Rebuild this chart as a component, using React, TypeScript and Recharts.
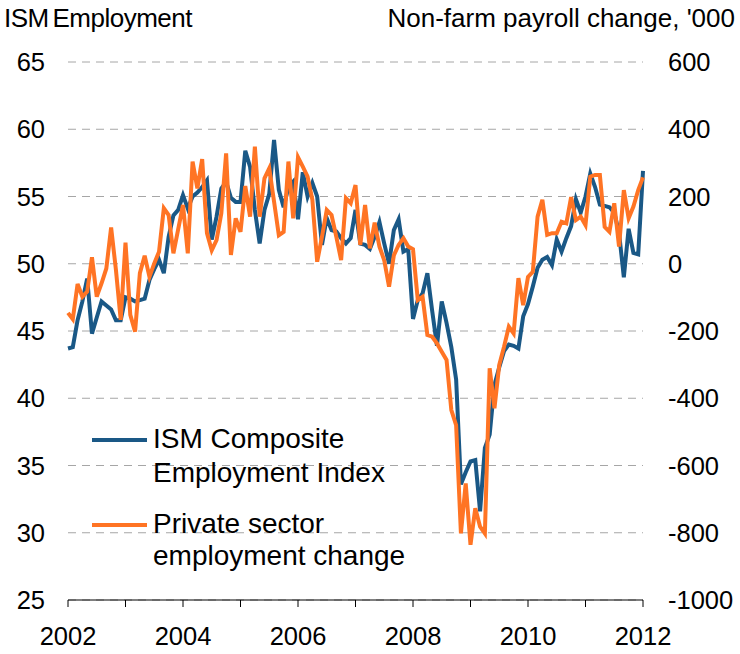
import React from 'react';
import { LineChart, Line, XAxis, YAxis, CartesianGrid } from 'recharts';

// monthly categories, Jan 2002 .. Jan 2012
const months: string[] = [];
for (let y = 2002; y <= 2012; y++) {
  for (let m = 1; m <= 12; m++) {
    if (y === 2012 && m > 1) break;
    months.push(`${y}-${String(m).padStart(2, '0')}`);
  }
}

const ismEmployment = [
  43.7, 43.8, 45.8, 47.2, 48.9, 44.8, 46.0, 47.2, 46.9, 46.6,
  45.8, 45.8, 47.5, 47.4, 47.2, 47.3, 47.4, 48.8, 49.6, 50.3,
  49.3, 52.0, 53.6, 54.0, 55.1, 54.1, 55.0, 55.3, 55.7, 56.2,
  51.8, 53.5, 55.6, 56.1, 54.9, 54.6, 54.6, 58.4, 57.2, 54.0,
  51.5, 54.0, 55.2, 59.2, 55.5, 54.2, 55.7, 56.1, 53.3, 56.8,
  55.0, 56.0, 55.0, 51.4, 53.4, 52.5, 52.4, 51.9, 51.5, 51.9,
  54.0, 51.5, 51.4, 51.1, 52.0, 53.1, 51.5, 50.0, 52.5, 53.3,
  50.9, 51.1, 45.9, 47.3, 47.8, 49.3, 46.5, 43.9, 47.2, 45.6,
  43.8, 41.4, 33.6, 34.5, 35.3, 35.4, 31.6, 36.3, 37.3, 41.0,
  42.3, 43.5, 44.0, 43.9, 43.7, 46.1, 47.0, 48.3, 49.7, 50.3,
  50.5, 49.9, 51.8, 50.9, 51.9, 52.8, 54.8, 53.8, 55.0, 56.7,
  55.7, 54.4, 54.3, 54.2, 53.8, 52.3, 49.0, 52.6, 50.8, 50.7,
  56.9,
];

const privatePayrolls = [
  -146, -165, -60, -98, -83, 19, -98, -58, -14, 108,
  -18, -167, 63, -152, -202, -28, 24, -39, 1, 36,
  165, 145, 31, 103, 175, 31, 304, 224, 311, 91,
  40, 70, 150, 328, 26, 135, 95, 231, 140, 348,
  140, 254, 284, 185, 85, 95, 304, 135, 317, 289,
  259, 190, 6, 80, 160, 145, 80, 11, 195, 180,
  234, 56, 175, 46, 122, 51, 10, -68, 25, 56,
  76, 51, 43, -108, -98, -212, -217, -237, -262, -286,
  -435, -480, -802, -653, -836, -727, -782, -802, -311, -430,
  -301, -247, -187, -207, -43, -123, -39, -24, 140, 190,
  86, 91, 91, 125, 120, 198, 130, 140, 115, 259,
  264, 264, 110, 95, 180, 51, 219, 135, 170, 219,
  257,
];

const yearTicks = ['2002-01', '2003-01', '2004-01', '2005-01', '2006-01', '2007-01',
  '2008-01', '2009-01', '2010-01', '2011-01', '2012-01'];
const leftTicks = [25, 30, 35, 40, 45, 50, 55, 60, 65];
const rightTicks = [-1000, -800, -600, -400, -200, 0, 200, 400, 600];

const data = months.map((m, i) => ({
  month: m,
  ism: ismEmployment[i],
  payrolls: privatePayrolls[i],
}));

const FONT = "'Liberation Sans', Arial, sans-serif";
const BLUE = '#1a5886';
const ORANGE = '#ff7424';

const yearLabel = (v: string) => {
  const y = Number(v.slice(0, 4));
  return y % 2 === 0 ? String(y) : '';
};

const textStyle: React.CSSProperties = {
  position: 'absolute',
  fontFamily: FONT,
  color: '#000',
  whiteSpace: 'nowrap',
};

const legendText: React.CSSProperties = {
  ...textStyle,
  left: 153,
  fontSize: 28,
  lineHeight: '33px',
};

const App = () => {
  const tick = { fontFamily: FONT, fontSize: 25.5, fill: '#000' };
  return (
    <div style={{ position: 'absolute', left: 0, top: 0, width: 740, height: 654, background: '#fff' }}>
      <div style={{ ...textStyle, fontSize: 26, lineHeight: '31px', left: 4, top: 3, wordSpacing: -3, letterSpacing: -0.5 }}>ISM Employment</div>
      <div style={{ ...textStyle, fontSize: 26, lineHeight: '31px', right: 5, top: 3 }}>Non-farm payroll change, '000</div>

      <LineChart width={740} height={654} data={data} margin={{ top: 62, right: 0, bottom: 0, left: 0 }}>
        <CartesianGrid yAxisId="left" vertical={false} stroke="#a6a6a6" strokeDasharray="8 6" />
        <XAxis
          dataKey="month"
          type="category"
          scale="point"
          padding={{ left: 0, right: 0 }}
          ticks={yearTicks}
          interval={0}
          tickFormatter={yearLabel}
          height={54}
          tickSize={7}
          tickMargin={20}
          axisLine={{ stroke: '#000' }}
          tickLine={{ stroke: '#000' }}
          tick={tick}
        />
        <YAxis
          yAxisId="left"
          orientation="left"
          domain={[25, 65]}
          ticks={leftTicks}
          width={68}
          axisLine={false}
          tickLine={false}
          tickSize={0}
          tickMargin={23}
          tick={tick}
        />
        <YAxis
          yAxisId="right"
          orientation="right"
          domain={[-1000, 600]}
          ticks={rightTicks}
          width={97}
          axisLine={false}
          tickLine={false}
          tickSize={0}
          tickMargin={25}
          tick={tick}
        />
        <Line
          yAxisId="left"
          dataKey="ism"
          stroke={BLUE}
          strokeWidth={4}
          dot={false}
          isAnimationActive={false}
        />
        <Line
          yAxisId="right"
          dataKey="payrolls"
          stroke={ORANGE}
          strokeWidth={4}
          dot={false}
          isAnimationActive={false}
        />
      </LineChart>

      {/* legend */}
      <svg style={{ position: 'absolute', left: 0, top: 0 }} width={740} height={654} pointerEvents="none">
        <line x1={92} x2={147} y1={440} y2={440} stroke={BLUE} strokeWidth={4} />
        <line x1={92} x2={147} y1={525} y2={525} stroke={ORANGE} strokeWidth={4} />
      </svg>
      <div style={{ ...legendText, top: 422 }}>ISM Composite</div>
      <div style={{ ...legendText, top: 456 }}>Employment Index</div>
      <div style={{ ...legendText, top: 507 }}>Private sector</div>
      <div style={{ ...legendText, top: 539 }}>employment change</div>
    </div>
  );
};

export default App;
